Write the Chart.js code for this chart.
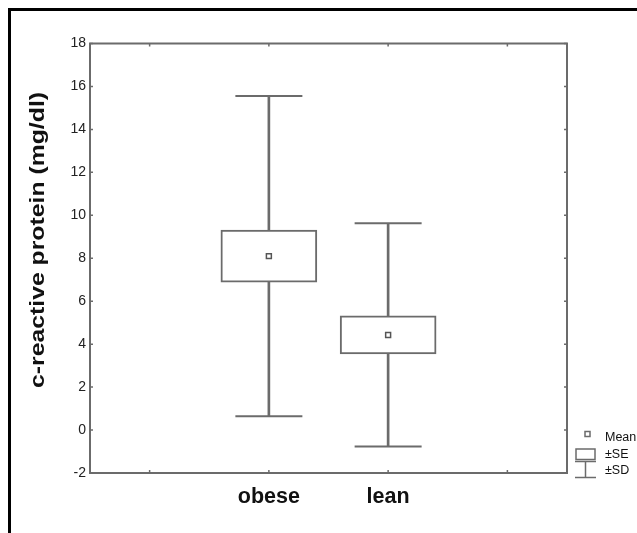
<!DOCTYPE html>
<html>
<head>
<meta charset="utf-8">
<script src="https://cdn.jsdelivr.net/npm/chart.js@4.4.0/dist/chart.umd.min.js"></script>
<style>
  html, body { margin: 0; padding: 0; background: #fff; }
  body { width: 637px; height: 533px; overflow: hidden; position: relative; }
  .frame { position: absolute; left: 8px; top: 8px; width: 700px; height: 600px;
           border-left: 3px solid #000; border-top: 3px solid #000; }
  #crpChart { position: absolute; left: 0; top: 0; }
</style>
</head>
<body>
<div class="frame"></div>
<canvas id="crpChart" width="637" height="533"></canvas>
<script>
// x slots: the plot has four category slots, only the middle two are used
const slots = ["", "obese", "lean", ""];
const groups = ["obese", "lean"];
const means = [8.10, 4.43];
const se = [1.21, 0.89];
const sd = [7.46, 5.20];
const yTicks = [-2, 0, 2, 4, 6, 8, 10, 12, 14, 16, 18];
const yTitle = "c-reactive protein (mg/dl)";

Chart.defaults.font.family = "'Liberation Sans', Arial, sans-serif";

const lineGray = "#6b6b6b";

// box frame, inward tick marks, y title and the Mean / ±SE / ±SD key
const framePlugin = {
  id: "frame",
  afterDraw(chart) {
    const { ctx, chartArea: a, scales } = chart;
    ctx.save();
    ctx.strokeStyle = lineGray;
    ctx.lineWidth = 2;
    ctx.strokeRect(a.left, a.top, a.right - a.left, a.bottom - a.top);

    ctx.lineWidth = 1.5;
    ctx.beginPath();
    scales.y.ticks.forEach((t) => {
      const y = scales.y.getPixelForValue(t.value);
      ctx.moveTo(a.left, y);
      ctx.lineTo(a.left + 3, y);
      ctx.moveTo(a.right, y);
      ctx.lineTo(a.right - 3, y);
    });
    slots.forEach((s, i) => {
      const x = scales.x.getPixelForValue(i);
      ctx.moveTo(x, a.bottom);
      ctx.lineTo(x, a.bottom - 3);
      ctx.moveTo(x, a.top);
      ctx.lineTo(x, a.top + 3);
    });
    ctx.stroke();

    // y title (the original type is a bit wider than Arial, so stretch it)
    ctx.save();
    ctx.translate(38.5, 240);
    ctx.rotate(-Math.PI / 2);
    ctx.scale(1.18, 1);
    ctx.fillStyle = "#111";
    ctx.font = "bold 21px 'Liberation Sans', Arial, sans-serif";
    ctx.textAlign = "center";
    ctx.textBaseline = "middle";
    ctx.fillText(yTitle, 0, 0);
    ctx.restore();

    // key
    const kx = a.right;
    const ky = a.bottom;
    ctx.lineWidth = 1.5;
    ctx.fillStyle = "#fff";
    ctx.fillRect(kx + 18, ky - 41.5, 5, 5);
    ctx.strokeRect(kx + 18, ky - 41.5, 5, 5);
    ctx.strokeRect(kx + 9, ky - 24, 19, 10.5);
    ctx.beginPath();
    ctx.moveTo(kx + 8, ky - 11.5);
    ctx.lineTo(kx + 29, ky - 11.5);
    ctx.moveTo(kx + 18.5, ky - 11.5);
    ctx.lineTo(kx + 18.5, ky + 4.5);
    ctx.moveTo(kx + 8, ky + 4.5);
    ctx.lineTo(kx + 29, ky + 4.5);
    ctx.stroke();

    ctx.fillStyle = "#111";
    ctx.font = "12.5px 'Liberation Sans', Arial, sans-serif";
    ctx.textBaseline = "middle";
    ctx.textAlign = "left";
    ctx.fillText("Mean", kx + 38, ky - 35);
    ctx.fillText("\u00b1SE", kx + 38, ky - 18.5);
    ctx.fillText("\u00b1SD", kx + 38, ky - 2);
    ctx.restore();
  },
};

const ctx = document.getElementById("crpChart").getContext("2d");
const crpChart = new Chart(ctx, {
  type: "bar",
  data: {
    labels: slots,
    datasets: [
      {
        type: "line",
        label: "Mean",
        data: groups.map((g, i) => ({ x: g, y: means[i] })),
        showLine: false,
        pointStyle: "rect",
        pointRadius: 3.5,
        pointBackgroundColor: "#fff",
        pointBorderColor: "#555",
        pointBorderWidth: 1.5,
        order: 0,
      },
      {
        type: "line",
        label: "SD caps",
        data: groups.flatMap((g, i) => [
          { x: g, y: means[i] + sd[i] },
          { x: g, y: means[i] - sd[i] },
        ]),
        showLine: false,
        pointStyle: "line",
        pointRadius: 33.5,
        pointBorderColor: lineGray,
        pointBorderWidth: 2,
        order: 1,
      },
      {
        label: "\u00b1SE",
        data: groups.map((g, i) => ({ x: g, y: [means[i] - se[i], means[i] + se[i]] })),
        backgroundColor: "#fff",
        borderColor: lineGray,
        borderWidth: 2,
        borderSkipped: false,
        barThickness: 96,
        grouped: false,
        order: 2,
      },
      {
        label: "\u00b1SD",
        data: groups.map((g, i) => ({ x: g, y: [means[i] - sd[i], means[i] + sd[i]] })),
        backgroundColor: lineGray,
        borderWidth: 0,
        barThickness: 2,
        grouped: false,
        order: 3,
      },
    ],
  },
  options: {
    responsive: false,
    animation: false,
    layout: { padding: { left: 0, right: 70, top: 43.5, bottom: 0 } },
    plugins: {
      legend: { display: false },
      tooltip: { enabled: false },
    },
    scales: {
      x: {
        type: "category",
        offset: true,
        grid: { display: false, drawTicks: false },
        border: { display: false },
        ticks: {
          padding: 11,
          color: "#111",
          autoSkip: false,
          maxRotation: 0,
          font: { size: 21.5, weight: "bold" },
        },
        afterFit(s) {
          s.height = 60;
        },
      },
      y: {
        min: -2,
        max: 18,
        afterBuildTicks(s) {
          s.ticks = yTicks.map((v) => ({ value: v }));
        },
        grid: { display: false, drawTicks: false },
        border: { display: false },
        ticks: { padding: 4, color: "#222", font: { size: 14 } },
        afterFit(s) {
          s.width = 90;
        },
      },
    },
  },
  plugins: [framePlugin],
});
</script>
</body>
</html>
